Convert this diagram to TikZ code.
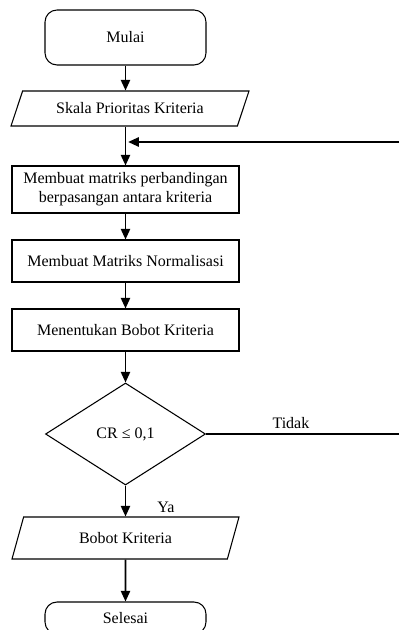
\documentclass[tikz,border=0pt]{standalone}
\usepackage{fontspec}
\setmainfont{Liberation Serif}
\usetikzlibrary{arrows.meta,positioning,calc,shapes.geometric}

\begin{document}
\begin{tikzpicture}[
    x=0.75pt, y=-0.75pt,
    every node/.style={font=\fontsize{12}{14.5}\selectfont},
    terminal/.style={rectangle, rounded corners=9pt, draw, line width=0.8pt, minimum width=120.75pt, minimum height=41.25pt},
    process/.style={rectangle, draw, line width=0.8pt, minimum width=170.25pt, minimum height=31.5pt, align=center},
    io/.style={trapezium, trapezium left angle=60, trapezium right angle=120, trapezium stretches body, draw, line width=0.8pt, minimum width=178.5pt, minimum height=26.25pt},
    decision/.style={diamond, draw, line width=0.8pt, minimum width=120pt, minimum height=76.5pt},
    arrow/.style={-{Triangle[length=8pt,width=7pt]}, line width=1.2pt},
    line/.style={line width=1.2pt}
]
    \clip (0,0) rectangle (399,630);

    \node[terminal] (mulai) at (125.5,37.5) {Mulai};
    \node[io] (skala) at (130,108.5) {Skala Prioritas Kriteria};
    \node[process, minimum height=35.25pt] (matriks) at (125.5,189.5) {Membuat matriks perbandingan\\berpasangan antara kriteria};
    \node[process] (normal) at (125.5,261) {Membuat Matriks Normalisasi};
    \node[process] (bobot) at (125.5,330) {Menentukan Bobot Kriteria};
    \node[decision] (cr) at (125.5,434) {CR ≤ 0,1};
    \node[io, minimum height=31.5pt, minimum width=170.25pt] (hasil) at (125.5,538) {Bobot Kriteria};
    \node[terminal, minimum height=24pt] (selesai) at (125.5,618) {Selesai};

    \coordinate (balik) at (399,142);
    \coordinate (keluar) at (399,434);

    \draw[arrow] (mulai) -- (mulai.south |- skala.north);
    \draw[arrow] (skala.south -| matriks.north) -- (matriks.north);
    \draw[arrow, shorten >=2pt] (balik) -- (balik -| matriks.north);
    \draw[arrow] (matriks) -- (normal);
    \draw[arrow] (normal) -- (bobot);
    \draw[arrow] (bobot) -- (cr);
    \draw[line] (cr.east) -- (keluar) node[pos=0.44, above] {Tidak};
    \draw[arrow] (cr) -- (hasil) node[pos=0.7, right=20pt] {Ya};
    \draw[arrow] (hasil) -- (selesai);
\end{tikzpicture}
\end{document}
